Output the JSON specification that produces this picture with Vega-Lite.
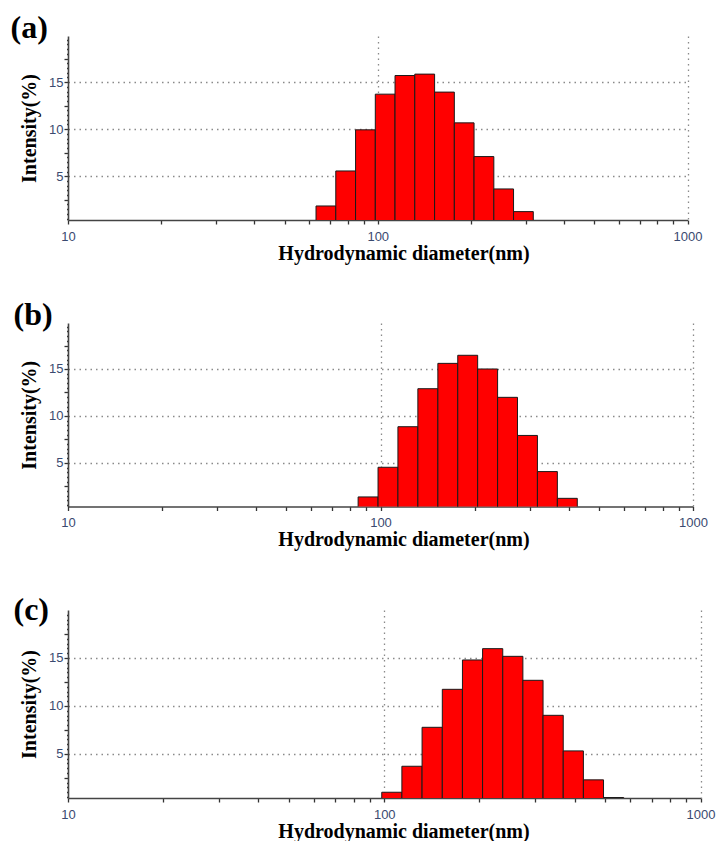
{
  "$schema": "https://vega.github.io/schema/vega-lite/v6.json",
  "background": "white",
  "padding": {"left": 10, "top": 12, "right": 4, "bottom": 2},
  "bounds": "flush",
  "spacing": 103,
  "datasets": {
    "a": [
      {"lo": 63.2, "hi": 73.2, "pct": 1.84},
      {"lo": 73.2, "hi": 84.8, "pct": 5.56},
      {"lo": 84.8, "hi": 98.2, "pct": 9.93},
      {"lo": 98.2, "hi": 113.7, "pct": 13.72},
      {"lo": 113.7, "hi": 131.7, "pct": 15.7},
      {"lo": 131.7, "hi": 152.6, "pct": 15.85},
      {"lo": 152.6, "hi": 176.7, "pct": 13.94},
      {"lo": 176.7, "hi": 204.6, "pct": 10.67},
      {"lo": 204.6, "hi": 237.0, "pct": 7.09},
      {"lo": 237.0, "hi": 274.4, "pct": 3.65},
      {"lo": 274.4, "hi": 317.8, "pct": 1.24}
    ],
    "b": [
      {"lo": 84.8, "hi": 98.2, "pct": 1.37},
      {"lo": 98.2, "hi": 113.7, "pct": 4.53},
      {"lo": 113.7, "hi": 131.7, "pct": 8.85},
      {"lo": 131.7, "hi": 152.6, "pct": 12.9},
      {"lo": 152.6, "hi": 176.7, "pct": 15.6},
      {"lo": 176.7, "hi": 204.6, "pct": 16.46},
      {"lo": 204.6, "hi": 237.0, "pct": 15.0},
      {"lo": 237.0, "hi": 274.4, "pct": 11.98},
      {"lo": 274.4, "hi": 317.8, "pct": 7.92},
      {"lo": 317.8, "hi": 368.1, "pct": 4.07},
      {"lo": 368.1, "hi": 426.3, "pct": 1.22}
    ],
    "c": [
      {"lo": 98.2, "hi": 113.7, "pct": 1.0},
      {"lo": 113.7, "hi": 131.7, "pct": 3.71},
      {"lo": 131.7, "hi": 152.6, "pct": 7.77},
      {"lo": 152.6, "hi": 176.7, "pct": 11.73},
      {"lo": 176.7, "hi": 204.6, "pct": 14.79},
      {"lo": 204.6, "hi": 237.0, "pct": 15.97},
      {"lo": 237.0, "hi": 274.4, "pct": 15.17},
      {"lo": 274.4, "hi": 317.8, "pct": 12.67},
      {"lo": 317.8, "hi": 368.1, "pct": 9.02},
      {"lo": 368.1, "hi": 426.3, "pct": 5.31},
      {"lo": 426.3, "hi": 493.6, "pct": 2.29},
      {"lo": 493.6, "hi": 571.6, "pct": 0.45}
    ]
  },
  "vconcat": [
    {
      "width": 619.5,
      "height": 184,
      "title": {"text": "(a)", "anchor": "start", "frame": "group", "dx": -57.5, "offset": -36.5, "baseline": "alphabetic"},
      "data": {"name": "a"},
      "mark": {"type": "bar", "color": "#ff0000", "stroke": "#1a1a1a", "strokeWidth": 1, "clip": true},
      "encoding": {
        "x": {"field": "lo", "type": "quantitative", "scale": {"type": "log", "domain": [10, 1000], "nice": false},
          "axis": {"title": "Hydrodynamic diameter(nm)", "titleX": 335.5,
            "values": [10, 20, 30, 40, 50, 60, 70, 80, 90, 100, 200, 300, 400, 500, 600, 700, 800, 900, 1000],
            "labelExpr": "(datum.value == 10 || datum.value == 100 || datum.value == 1000) ? format(datum.value, 'd') : ''",
            "grid": true,
            "gridOpacity": {"condition": {"test": "datum.value == 100 || datum.value == 1000", "value": 1}, "value": 0}}},
        "x2": {"field": "hi"},
        "y": {"field": "pct", "type": "quantitative", "scale": {"domain": [0.35, 19.9], "nice": false, "zero": false},
          "axis": {"title": "Intensity(%)",
            "values": [0.5, 1, 1.5, 2, 2.5, 3, 3.5, 4, 4.5, 5, 5.5, 6, 6.5, 7, 7.5, 8, 8.5, 9, 9.5, 10, 10.5, 11, 11.5, 12, 12.5, 13, 13.5, 14, 14.5, 15, 15.5, 16, 16.5, 17, 17.5, 18, 18.5, 19, 19.5],
            "labelExpr": "datum.value % 5 === 0 ? format(datum.value, 'd') : ''",
            "grid": true,
            "gridOpacity": {"condition": {"test": "datum.value % 5 === 0", "value": 1}, "value": 0},
            "tickSize": {"condition": {"test": "datum.value % 2.5 === 0", "value": 4}, "value": 1.5}}},
        "y2": {"datum": 0}
      }
    },
    {
      "width": 625,
      "height": 183.5,
      "title": {"text": "(b)", "anchor": "start", "frame": "group", "dx": -54.5, "offset": -36.5, "baseline": "alphabetic"},
      "data": {"name": "b"},
      "mark": {"type": "bar", "color": "#ff0000", "stroke": "#1a1a1a", "strokeWidth": 1, "clip": true},
      "encoding": {
        "x": {"field": "lo", "type": "quantitative", "scale": {"type": "log", "domain": [10, 1000], "nice": false},
          "axis": {"title": "Hydrodynamic diameter(nm)", "titleX": 335.5,
            "values": [10, 20, 30, 40, 50, 60, 70, 80, 90, 100, 200, 300, 400, 500, 600, 700, 800, 900, 1000],
            "labelExpr": "(datum.value == 10 || datum.value == 100 || datum.value == 1000) ? format(datum.value, 'd') : ''",
            "grid": true,
            "gridOpacity": {"condition": {"test": "datum.value == 100 || datum.value == 1000", "value": 1}, "value": 0}}},
        "x2": {"field": "hi"},
        "y": {"field": "pct", "type": "quantitative", "scale": {"domain": [0.35, 19.9], "nice": false, "zero": false},
          "axis": {"title": "Intensity(%)",
            "values": [0.5, 1, 1.5, 2, 2.5, 3, 3.5, 4, 4.5, 5, 5.5, 6, 6.5, 7, 7.5, 8, 8.5, 9, 9.5, 10, 10.5, 11, 11.5, 12, 12.5, 13, 13.5, 14, 14.5, 15, 15.5, 16, 16.5, 17, 17.5, 18, 18.5, 19, 19.5],
            "labelExpr": "datum.value % 5 === 0 ? format(datum.value, 'd') : ''",
            "grid": true,
            "gridOpacity": {"condition": {"test": "datum.value % 5 === 0", "value": 1}, "value": 0},
            "tickSize": {"condition": {"test": "datum.value % 2.5 === 0", "value": 4}, "value": 1.5}}},
        "y2": {"datum": 0}
      }
    },
    {
      "width": 632.5,
      "height": 188,
      "title": {"text": "(c)", "anchor": "start", "frame": "group", "dx": -54.5, "offset": -43.5, "baseline": "alphabetic"},
      "data": {"name": "c"},
      "mark": {"type": "bar", "color": "#ff0000", "stroke": "#1a1a1a", "strokeWidth": 1, "clip": true},
      "encoding": {
        "x": {"field": "lo", "type": "quantitative", "scale": {"type": "log", "domain": [10, 1000], "nice": false},
          "axis": {"title": "Hydrodynamic diameter(nm)", "titleX": 335.5,
            "values": [10, 20, 30, 40, 50, 60, 70, 80, 90, 100, 200, 300, 400, 500, 600, 700, 800, 900, 1000],
            "labelExpr": "(datum.value == 10 || datum.value == 100 || datum.value == 1000) ? format(datum.value, 'd') : ''",
            "grid": true,
            "gridOpacity": {"condition": {"test": "datum.value == 100 || datum.value == 1000", "value": 1}, "value": 0}}},
        "x2": {"field": "hi"},
        "y": {"field": "pct", "type": "quantitative", "scale": {"domain": [0.4, 20], "nice": false, "zero": false},
          "axis": {"title": "Intensity(%)",
            "values": [0.5, 1, 1.5, 2, 2.5, 3, 3.5, 4, 4.5, 5, 5.5, 6, 6.5, 7, 7.5, 8, 8.5, 9, 9.5, 10, 10.5, 11, 11.5, 12, 12.5, 13, 13.5, 14, 14.5, 15, 15.5, 16, 16.5, 17, 17.5, 18, 18.5, 19, 19.5],
            "labelExpr": "datum.value % 5 === 0 ? format(datum.value, 'd') : ''",
            "grid": true,
            "gridOpacity": {"condition": {"test": "datum.value % 5 === 0", "value": 1}, "value": 0},
            "tickSize": {"condition": {"test": "datum.value % 2.5 === 0", "value": 4}, "value": 1.5}}},
        "y2": {"datum": 0}
      }
    }
  ],
  "config": {
    "view": {"stroke": null},
    "title": {"font": "Liberation Serif", "fontSize": 32, "fontWeight": "bold", "color": "#000000"},
    "axisX": {
      "labelPadding": 6,
      "labelFlush": false,
      "labelOverlap": false,
      "titlePadding": 0,
      "titleAlign": "center"
    },
    "axisY": {
      "labelPadding": 1,
      "labelOverlap": false,
      "titlePadding": 9
    },
    "axis": {
      "gridDash": [1.5, 4],
      "gridColor": "#8a8a8a",
      "gridWidth": 1.3,
      "tickColor": "#333333",
      "tickWidth": 1.3,
      "tickSize": 4,
      "domainColor": "#444444",
      "domainWidth": 1.6,
      "labelFont": "Liberation Sans",
      "labelFontSize": 13,
      "labelColor": "#3a4a70",
      "titleFont": "Liberation Serif",
      "titleFontSize": 20,
      "titleFontWeight": "bold",
      "titleColor": "#000000"
    }
  }
}
